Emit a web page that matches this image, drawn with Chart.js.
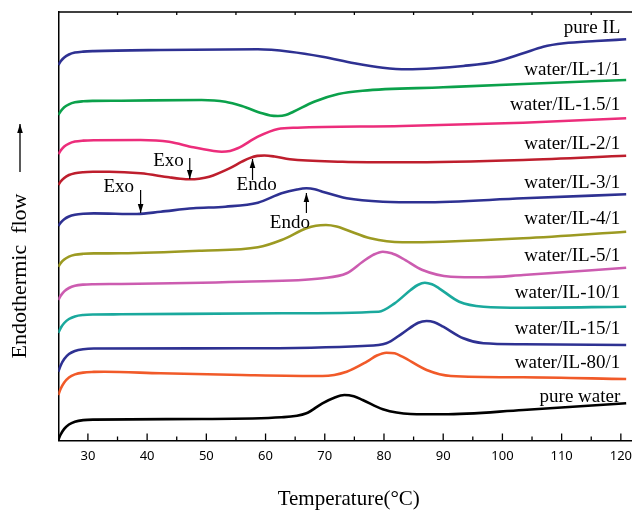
<!DOCTYPE html>
<html><head><meta charset="utf-8">
<script src="https://cdn.jsdelivr.net/npm/chart.js@4.4.1/dist/chart.umd.min.js"></script>
<style>
html,body{margin:0;padding:0;overflow:hidden;background:#fff;width:632px;height:512px}
#wrap{position:relative;width:640px;height:512px}
</style>
</head><body><div id="wrap"><canvas id="c" width="640" height="512"></canvas></div>
<script>
// Temperature tick labels (°C)
const xTicks = [30, 40, 50, 60, 70, 80, 90, 100, 110, 120];
// Curve names, top to bottom
const seriesNames = ['pure IL','water/IL-1/1','water/IL-1.5/1','water/IL-2/1','water/IL-3/1','water/IL-4/1','water/IL-5/1','water/IL-10/1','water/IL-15/1','water/IL-80/1','pure water'];
// DSC traces: [temperature °C, stacked heat flow (a.u.)]
const pureIL = [[25.0,375.5],[25.4,379.2],[26.0,383.0],[26.8,386.0],[27.8,387.9],[29.2,388.9],[31.0,389.4],[42.3,390.5],[58.7,391.2],[64.1,388.8],[69.6,383.8],[75.0,377.2],[79.8,372.8],[83.8,371.2],[88.6,372.2],[93.4,374.5],[98.8,378.8],[103.5,387.2],[106.9,393.8],[110.4,397.2],[115.8,399.5],[120.9,401.2]];
const wIL1 = [[25.0,325.5],[25.4,329.3],[26.0,333.2],[26.8,336.2],[27.8,338.2],[29.2,339.2],[31.0,339.6],[35.6,339.8],[49.2,340.5],[53.2,338.8],[56.0,334.5],[59.4,327.2],[60.8,325.0],[62.1,324.5],[63.4,325.4],[64.7,328.8],[68.2,338.8],[72.3,346.5],[76.4,349.8],[90.0,353.2],[103.5,356.5],[120.9,360.5]];
const wIL15 = [[25.0,286.2],[25.4,290.0],[26.0,293.9],[26.8,296.9],[27.8,298.9],[29.2,299.9],[31.0,300.3],[38.9,300.5],[43.7,298.8],[47.8,293.2],[51.0,289.8],[52.6,288.8],[54.0,289.6],[55.3,292.2],[58.7,303.8],[62.1,311.5],[65.4,312.8],[83.1,314.5],[103.5,317.8],[120.9,322.2]];
const wIL2 = [[25.0,255.5],[25.4,259.0],[26.0,262.6],[26.8,265.5],[27.8,267.3],[29.2,268.3],[31.0,268.7],[33.6,268.8],[38.9,267.2],[43.7,263.2],[45.6,261.8],[47.2,261.2],[48.8,261.8],[50.5,263.8],[53.9,272.2],[56.0,278.8],[57.4,282.6],[58.6,284.6],[59.8,285.0],[61.5,284.0],[64.1,281.2],[73.0,278.8],[83.1,278.2],[103.5,280.5],[120.9,284.8]];
const wIL3 = [[25.0,214.5],[25.4,217.9],[26.0,221.3],[26.8,224.0],[27.8,225.7],[29.2,226.7],[31.0,227.1],[38.3,226.5],[42.3,228.8],[47.8,232.2],[53.2,233.8],[58.7,237.8],[62.7,247.2],[65.3,251.0],[66.9,252.2],[68.3,251.3],[69.6,248.8],[73.7,242.2],[79.8,238.8],[86.5,238.2],[103.5,242.2],[120.9,246.2]];
const wIL4 = [[25.0,173.8],[25.4,177.4],[26.0,181.0],[26.8,183.9],[27.8,185.7],[29.2,186.7],[31.0,187.1],[35.6,187.2],[49.2,189.8],[58.7,193.2],[62.7,200.5],[66.9,212.2],[68.5,214.8],[70.2,215.5],[72.0,214.0],[73.7,210.5],[77.7,202.2],[83.1,198.2],[90.0,198.8],[103.5,202.2],[120.9,208.8]];
const wIL5 = [[25.0,140.5],[25.4,144.7],[26.0,149.1],[26.8,152.5],[27.8,154.7],[29.2,155.9],[31.0,156.3],[35.6,156.5],[56.0,158.8],[69.6,162.2],[73.7,167.2],[76.4,178.8],[78.3,186.0],[79.8,188.8],[81.3,187.2],[83.1,182.2],[86.5,170.5],[91.3,163.8],[96.8,163.2],[103.5,165.5],[120.9,172.8]];
const wIL10 = [[25.0,107.5],[25.4,112.5],[26.0,117.5],[26.8,121.5],[27.8,124.1],[29.2,125.5],[31.0,126.0],[35.6,126.2],[62.7,127.2],[79.1,128.8],[81.8,137.2],[84.5,150.5],[85.7,155.5],[86.9,157.8],[88.1,156.2],[89.3,152.2],[92.7,138.8],[96.8,133.8],[103.5,132.8],[120.9,133.8]];
const wIL15b = [[25.0,68.8],[25.4,75.0],[26.0,81.4],[26.8,86.4],[27.8,89.5],[29.2,91.3],[31.0,92.0],[56.0,92.2],[76.4,94.5],[80.4,97.2],[83.1,107.2],[85.8,117.8],[87.2,119.5],[88.5,118.2],[90.0,113.8],[93.4,102.2],[96.8,97.2],[103.5,96.2],[120.9,95.5]];
const wIL80 = [[25.0,45.5],[25.4,51.7],[26.0,58.0],[26.8,63.0],[27.8,66.1],[29.2,67.9],[31.0,68.6],[32.8,68.8],[42.3,67.2],[56.0,65.5],[69.6,64.5],[73.7,68.8],[77.1,78.8],[78.8,85.0],[80.4,87.8],[81.8,87.2],[83.1,83.8],[87.2,70.5],[91.3,64.5],[103.5,63.2],[120.9,61.5]];
const pureWater = [[25.0,0.5],[25.4,6.0],[26.0,11.6],[26.8,16.0],[27.8,18.8],[29.2,20.4],[31.0,20.9],[49.2,21.5],[62.7,23.2],[66.9,27.2],[69.6,37.2],[71.6,42.8],[73.3,45.5],[74.9,44.2],[76.4,40.5],[79.8,31.2],[84.5,26.5],[90.0,26.2],[103.5,30.5],[120.9,37.2]];

const series = [pureIL, wIL1, wIL15, wIL2, wIL3, wIL4, wIL5, wIL10, wIL15b, wIL80, pureWater];
const colors = ['#2E3192','#0BA14B','#EC2D7B','#BE1E2D','#2E3192','#9C9A22','#CC5CB0','#1AA99D','#2E3192','#F15A29','#000000'];

const serif = "'Liberation Serif','Times New Roman',serif";

function arrow(ctx, x, yTail, yTip){
  ctx.beginPath(); ctx.moveTo(x, yTail); ctx.lineTo(x, yTip); ctx.stroke();
  const d = yTip < yTail ? 1 : -1;
  ctx.beginPath();
  ctx.moveTo(x, yTip);
  ctx.lineTo(x-2.8, yTip + d*9);
  ctx.lineTo(x+2.8, yTip + d*9);
  ctx.closePath(); ctx.fill();
}

const decor = {
  id: 'decor',
  afterDraw(chart, args, opts){
    const {ctx, chartArea: a, scales: {x, y}} = chart;
    ctx.save();
    ctx.strokeStyle = '#000'; ctx.fillStyle = '#000'; ctx.lineWidth = 1.5;
    // top frame
    ctx.beginPath(); ctx.moveTo(a.left, a.top); ctx.lineTo(a.right, a.top); ctx.stroke();
    ctx.lineWidth = 1.3;
    // inward ticks
    xTicks.forEach(v => {
      const px = x.getPixelForValue(v);
      ctx.beginPath(); ctx.moveTo(px, a.bottom); ctx.lineTo(px, a.bottom - 7); ctx.stroke();
      const m = v - 5;
      if (m > x.min) {
        const pm = x.getPixelForValue(m);
        ctx.beginPath(); ctx.moveTo(pm, a.bottom); ctx.lineTo(pm, a.bottom - 4); ctx.stroke();
        ctx.beginPath(); ctx.moveTo(pm, a.top); ctx.lineTo(pm, a.top + 3); ctx.stroke();
      }
    });
    // curve labels
    ctx.font = '19px ' + serif;
    ctx.textAlign = 'right'; ctx.textBaseline = 'alphabetic';
    seriesNames.forEach((n, i) => {
      ctx.fillText(n, x.getPixelForValue(opts.labelX), y.getPixelForValue(opts.labelY[i]));
    });
    // Exo / Endo annotations
    ctx.lineWidth = 1.2;
    opts.notes.forEach(nt => {
      ctx.textAlign = 'center';
      ctx.fillText(nt.text, x.getPixelForValue(nt.tx), y.getPixelForValue(nt.ty));
      arrow(ctx, x.getPixelForValue(nt.ax), y.getPixelForValue(nt.tail), y.getPixelForValue(nt.tip));
    });
    // y-axis title with arrow
    ctx.save();
    ctx.translate(20, 276);
    ctx.rotate(-Math.PI/2);
    ctx.font = '22px ' + serif;
    ctx.textAlign = 'center'; ctx.textBaseline = 'middle';
    ctx.fillText('Endothermic  flow', 0, 0);
    ctx.restore();
    ctx.lineWidth = 1.3;
    arrow(ctx, 20, 172, 124);
    ctx.restore();
  }
};

new Chart(document.getElementById('c'), {
  type: 'line',
  data: {
    datasets: series.map((s, i) => ({
      label: seriesNames[i],
      data: s.map(([t, v]) => ({x: t, y: v})),
      borderColor: colors[i],
      borderWidth: 2.6,
      pointRadius: 0,
      cubicInterpolationMode: 'monotone',
      fill: false
    }))
  },
  options: {
    responsive: false,
    animation: false,
    layout: {padding: {top: 12, left: 0, right: 0, bottom: 0}},
    plugins: {
      legend: {display: false},
      tooltip: {enabled: false},
      decor: {
        labelX: 119.9,
        labelY: [407.5, 365.5, 330.5, 291.5, 252.5, 216.5, 179.5, 142.5, 106.5, 72.5, 38.5],
        notes: [
          {text: 'Exo',  tx: 43.6, ty: 274.5, ax: 47.2, tail: 282.5, tip: 261.5},
          {text: 'Endo', tx: 58.5, ty: 250.5, ax: 57.8, tail: 260.5, tip: 281.5},
          {text: 'Exo',  tx: 35.2, ty: 248.5, ax: 38.9, tail: 250.5, tip: 227.5},
          {text: 'Endo', tx: 64.1, ty: 212.5, ax: 66.9, tail: 227.5, tip: 247.5}
        ]
      }
    },
    scales: {
      x: {
        type: 'linear', min: 25, max: 123.1,
        afterBuildTicks(s){ s.ticks = xTicks.map(v => ({value: v})); },
        afterFit(s){ s.height = 71.5; },
        grid: {display: false, drawTicks: false},
        border: {display: true, color: '#000', width: 1.5},
        ticks: {color: '#000', font: {family: 'Noto Sans', size: 13}, padding: 8, maxRotation: 0, autoSkip: false},
        title: {display: true, text: 'Temperature(°C)', color: '#000', font: {family: serif, size: 21}, padding: 0}
      },
      y: {
        min: 0, max: 428.5,
        afterFit(s){ s.width = 58.3; },
        ticks: {display: false},
        grid: {display: false, drawTicks: false},
        border: {display: true, color: '#000', width: 1.5}
      }
    }
  },
  plugins: [decor]
});
</script>
</body></html>
